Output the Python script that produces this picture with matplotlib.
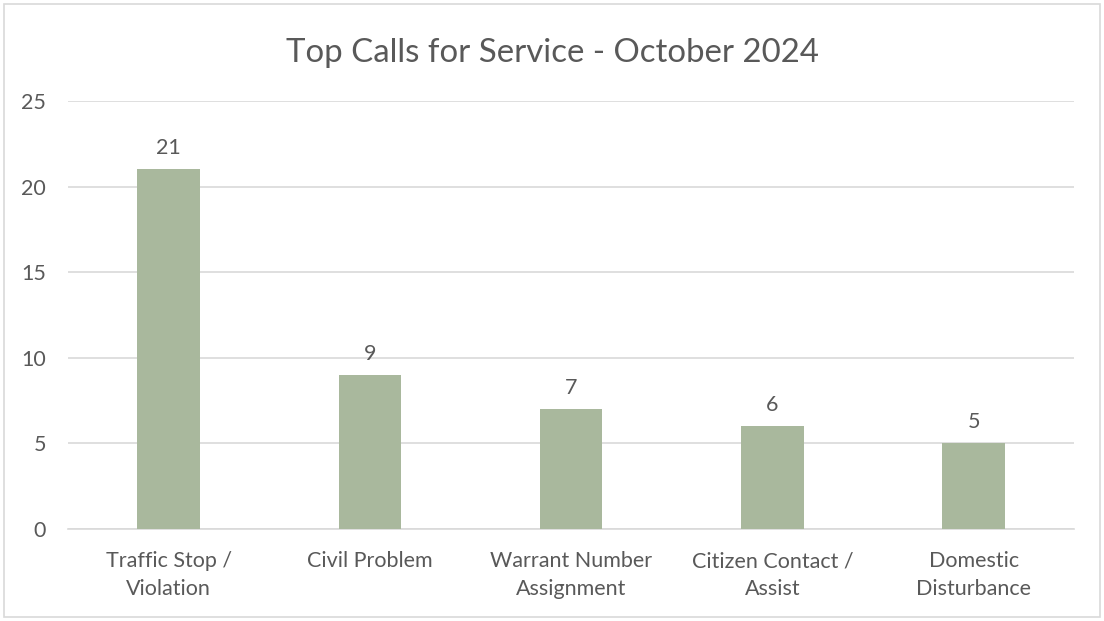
import matplotlib.pyplot as plt
from matplotlib.patches import Rectangle

categories = ["Traffic Stop /\nViolation", "Civil Problem", "Warrant Number\nAssignment",
              "Citizen Contact /\nAssist", "Domestic\nDisturbance"]
counts = [21, 9, 7, 6, 5]
y_ticks = [0, 5, 10, 15, 20, 25]

BAR = "#A9B89D"
TEXT = "#595959"
GRID = "#D9D9D9"

plt.rcParams["font.family"] = ["Lato", "DejaVu Sans"]

fig = plt.figure(figsize=(11.04, 6.21), dpi=100, facecolor="white")
fig.patches.append(Rectangle((0.004, 0.006), 0.992, 0.988, transform=fig.transFigure,
                             fill=False, edgecolor=GRID, linewidth=1.2))

ax = fig.add_axes([0.0616, 0.1481, 0.9114, 0.6893])
x = range(len(categories))
bars = ax.bar(x, counts, width=0.31, color=BAR, zorder=3)
for b, v in zip(bars, counts):
    ax.annotate(str(v), (b.get_x() + b.get_width() / 2, v), xytext=(0, 8),
                textcoords="offset points", ha="center", va="bottom",
                fontsize=15.5, color=TEXT)

ax.set_xlim(-0.5, len(categories) - 0.5)
ax.set_ylim(0, 25)
ax.set_yticks(y_ticks)
ax.set_xticks(list(x))
ax.set_xticklabels(categories, fontsize=15.5, color=TEXT, linespacing=1.5)
ax.tick_params(axis="y", labelsize=15.5, labelcolor=TEXT, length=0, pad=16)
ax.tick_params(axis="x", length=0, pad=16)
ax.yaxis.grid(True, color=GRID, linewidth=1.2, zorder=0)
for s in ["top", "right", "left"]:
    ax.spines[s].set_visible(False)
ax.spines["bottom"].set_color(GRID)
ax.spines["bottom"].set_linewidth(1.2)

fig.text(0.5, 0.915, "Top Calls for Service - October 2024", ha="center", va="center",
         fontsize=23.8, color=TEXT)

fig.savefig("out.png", dpi=100, facecolor="white")
